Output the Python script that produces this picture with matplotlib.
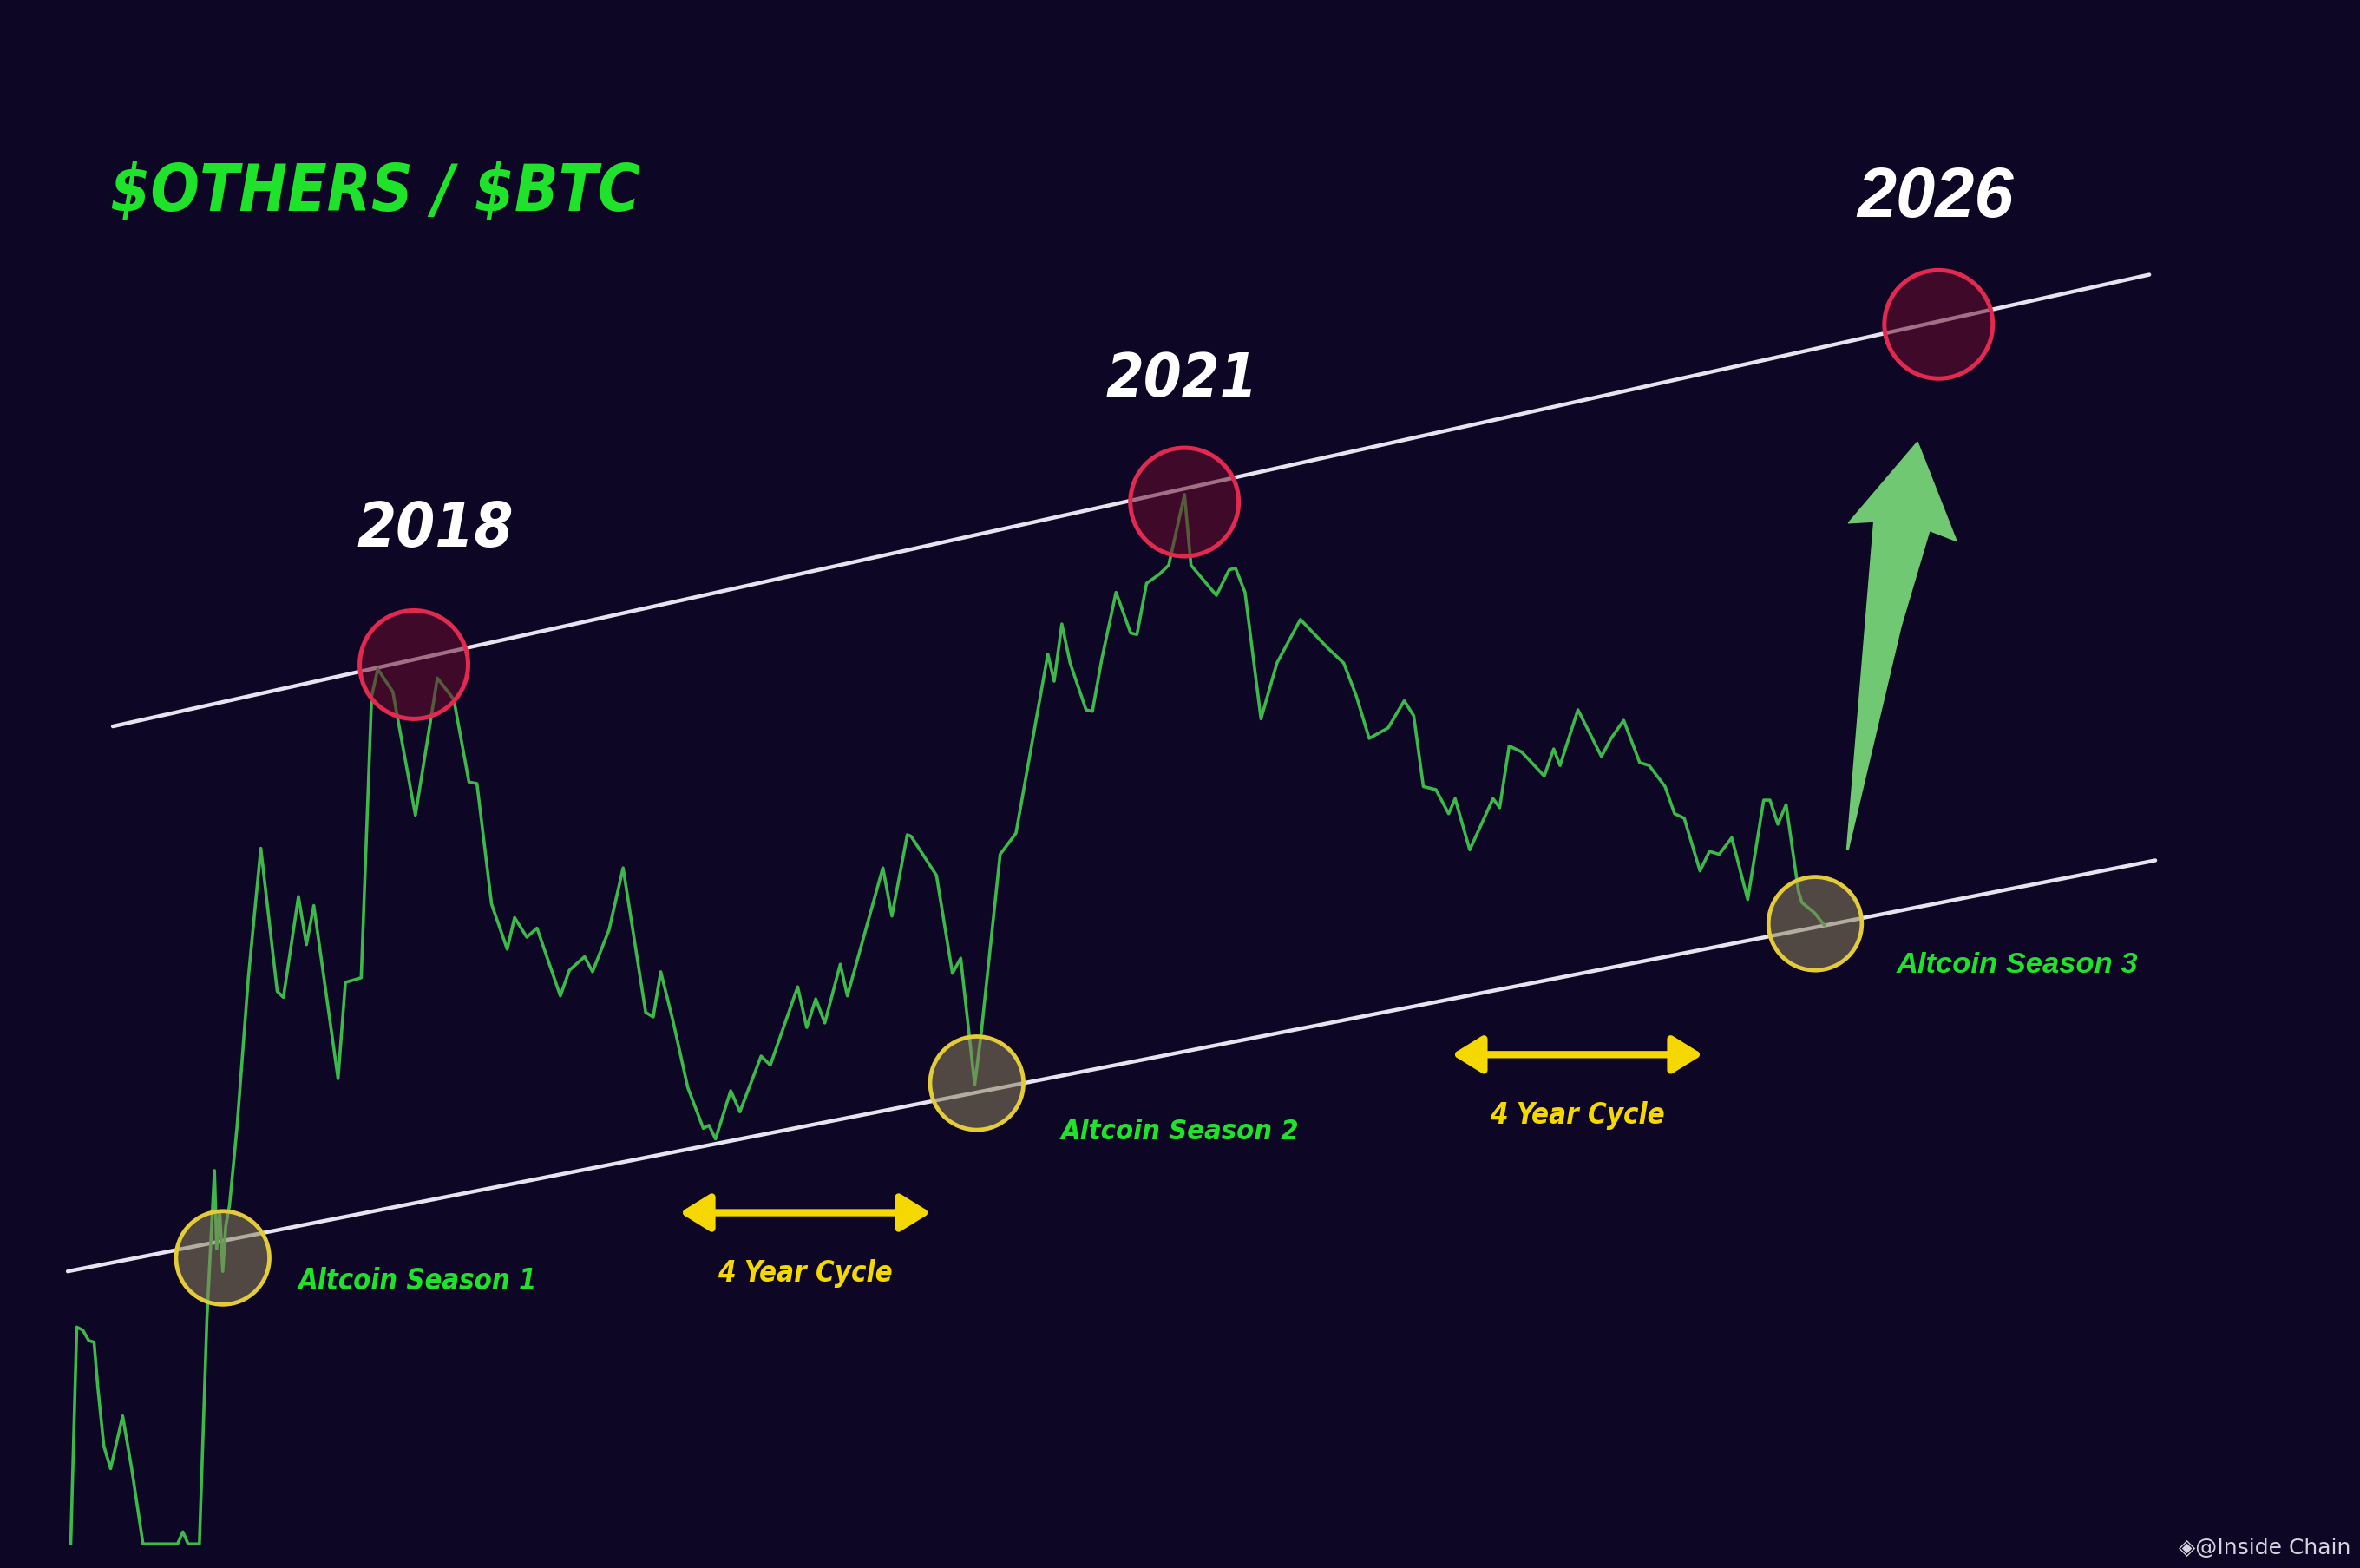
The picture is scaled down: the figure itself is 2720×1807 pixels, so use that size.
import matplotlib
matplotlib.use('Agg')
import matplotlib.pyplot as plt
from matplotlib import font_manager
from matplotlib.font_manager import FontProperties
from matplotlib.patches import Circle, Polygon, FancyArrowPatch

# traced $OTHERS/$BTC curve (x = time position, y = chart level, image units)
t = [47, 51, 55, 59, 62.5, 65, 69, 73.5, 81.5, 87.5, 95, 118, 121.5, 125, 132.5,
     137.5, 142.5, 144, 146, 148, 150, 152.5, 157.5, 165, 173.3, 184.2, 188.3,
     198.3, 203.6, 208.5, 224.6, 229.5, 240, 246.9, 251, 261, 276, 290.6, 301.5,
     311.6, 316.9, 326.6, 337, 341.9, 350, 356.8, 372.3, 378.3, 388.4, 393.7,
     404.7, 414, 429, 434, 439, 447, 457, 467.3, 471, 475.4, 485.5, 491.6, 505.7,
     511.8, 530, 536, 542, 548, 558.3, 563, 586.6, 592.6, 602.8, 605.3, 622.2,
     632.8, 638.3, 647.6, 651.8, 664.5, 675, 696.2, 700.4, 705.5, 711, 721.6,
     725.8, 732.1, 741.5, 751.2, 755.4, 761.8, 770.2, 776.5, 787, 791.3, 808.2,
     816.7, 820.9, 827.2, 837.8, 848.4, 864, 882.2, 892.8, 901.2, 909.7, 922.3,
     933, 939.3, 945.7, 954, 962.5, 966.8, 976.5, 992, 996.4, 1002.7, 1011, 1026,
     1032.3, 1036.5, 1048.4, 1064, 1070.4, 1078.8, 1089.4, 1095.7, 1106.3, 1112.6,
     1119, 1129.5, 1135.8, 1142.2, 1150.6, 1161.2, 1171.8, 1176, 1181.2, 1186.7,
     1195, 1197.2, 1205.7, 1212]
level = [1026, 882, 884, 891, 892, 922, 961, 976, 941, 976, 1026, 1026, 1018, 1026, 1026,
         876, 778, 830, 805, 845, 815, 801, 749, 650, 564, 659, 663,
         596, 628, 602, 717, 653, 650, 463, 445, 460, 542, 451, 465,
         520, 521, 601, 631, 610, 623, 617, 662, 645, 636, 646,
         618, 577, 673, 676, 646, 678, 723, 750, 748, 757, 725, 739, 702,
         708, 656, 683, 664, 680, 641, 662, 577, 609, 555, 556, 582,
         647, 637, 721, 688, 568, 554, 435, 453, 415, 441, 472,
         473, 438, 394, 421, 422, 388, 382, 376, 329, 376, 396,
         379, 378, 394, 478, 441, 412, 431, 441, 463, 491, 484,
         466, 476, 523, 525, 541, 531, 565, 531, 537, 496, 500, 516,
         498, 509, 472, 503, 491, 479, 507, 509, 523, 541,
         544, 579, 566, 568, 557, 598, 532, 532, 548, 535,
         593, 600, 607, 615]

# channel lines
upper_t = [75, 1428]
upper_level = [483, 183]
lower_t = [45, 1432]
lower_level = [845, 572]

# cycle tops and bottoms
top_labels = ['2018', '2021', '2026']
top_t = [275, 787, 1288]
top_level = [442, 334, 216]
bottom_labels = ['Altcoin Season 1', 'Altcoin Season 2', 'Altcoin Season 3']
bottom_t = [148, 649, 1206]
bottom_level = [836, 720, 614]

# 4 year cycle arrows
cycle_start = [450, 963]
cycle_end = [620, 1133]
cycle_level = [806, 701]

BG = '#0d0624'
GREEN = '#1fe32a'
YELLOW = '#f4d800'
PX = 2720 / 1568  # output pixels per image unit


def condensed_bold_italic():
    # look for a narrow / condensed bold italic face, like the one in the picture
    best = None
    for f in font_manager.fontManager.ttflist:
        w = f.weight
        bold = (isinstance(w, int) and w >= 600) or str(w).lower() in ('bold', 'heavy', 'black')
        italic = str(f.style).lower() in ('italic', 'oblique')
        st = str(f.stretch).lower()
        narrow = ('narrow' in f.name.lower() or 'condensed' in f.name.lower()
                  or st in ('condensed', 'semi-condensed', 'extra-condensed'))
        if bold and italic and narrow:
            score = 0 if 'Liberation Sans Narrow' in f.name else 1
            if best is None or score < best[0]:
                best = (score, f.fname)
    return best[1] if best else None


path = condensed_bold_italic()
if path:
    fp = FontProperties(fname=path)
else:
    fp = FontProperties(family='Liberation Sans', weight='bold', style='italic')
wide = FontProperties(family='Liberation Sans', weight='bold', style='italic')

fig = plt.figure(figsize=(27.2, 18.08), dpi=100, facecolor=BG)
ax = fig.add_axes([0, 0, 1, 1])
ax.set_facecolor(BG)
ax.set_xlim(0, 1568)
ax.set_ylim(1042, 0)
ax.axis('off')
renderer = fig.canvas.get_renderer()


def label(s, x0, x1, y, color, prop):
    # place text and size it so it spans x0..x1 like the reference
    txt = ax.text(x0, y, s, color=color, fontproperties=prop, fontsize=40,
                  ha='left', va='center', zorder=7)
    w = txt.get_window_extent(renderer).width
    txt.set_fontsize(40 * (x1 - x0) * PX / w)
    return txt


# channel
ax.plot(upper_t, upper_level, color='#e6e4ee', lw=3.2, solid_capstyle='round', zorder=2)
ax.plot(lower_t, lower_level, color='#e6e4ee', lw=3.2, solid_capstyle='round', zorder=2)

# price line
ax.plot(t, level, color='#3db84a', lw=2.6, zorder=3)

# highlight circles
for x, y in zip(top_t, top_level):
    ax.add_patch(Circle((x, y), 36, facecolor='#6a0f30', alpha=0.55, edgecolor='none', zorder=4))
    ax.add_patch(Circle((x, y), 36, facecolor='none', edgecolor='#e3294f', lw=3.6, zorder=5))
for x, y in zip(bottom_t, bottom_level):
    ax.add_patch(Circle((x, y), 31, facecolor='#8a8060', alpha=0.55, edgecolor='none', zorder=4))
    ax.add_patch(Circle((x, y), 31, facecolor='none', edgecolor='#e4cc38', lw=3.4, zorder=5))

# labels
label(r'\$OTHERS / \$BTC', 73, 425, 128, GREEN, fp)
label('2018', 237, 341, 352, 'white', fp)
label('2021', 735, 836, 252, 'white', fp)
label('2026', 1234, 1338, 132, 'white', wide)
label('Altcoin Season 1', 198, 357, 851, GREEN, fp)
label('Altcoin Season 2', 705, 863, 752, GREEN, fp)
label('Altcoin Season 3', 1260, 1420, 641, GREEN, wide)

for x0, x1, y in zip(cycle_start, cycle_end, cycle_level):
    ax.add_patch(FancyArrowPatch((x0, y), (x1, y),
                                 arrowstyle='<|-|>,head_length=0.42,head_width=0.26',
                                 mutation_scale=50, color=YELLOW, lw=6, zorder=5))
    mid = (x0 + x1) / 2
    label('4 Year Cycle', mid - 58, mid + 58, y + 40, YELLOW, fp)

# big green arrow from last bottom towards the 2026 top
bx, by = bottom_t[-1], bottom_level[-1]
arrow = [(bx + 21, by - 49), (bx + 39, by - 267), (bx + 22, by - 266),
         (bx + 68, by - 320), (bx + 94, by - 254), (bx + 76, by - 261),
         (bx + 57, by - 197), (bx + 22, by - 49)]
ax.add_patch(Polygon(arrow, closed=True, facecolor='#70c872', edgecolor='#70c872',
                     lw=1, zorder=6))

# watermark
ax.text(1562, 1028, '\u25c8@Inside Chain', color='#d6d4e0', fontsize=18,
        family='DejaVu Sans', ha='right', va='center')

fig.savefig('out.png', dpi=100, facecolor=BG)
